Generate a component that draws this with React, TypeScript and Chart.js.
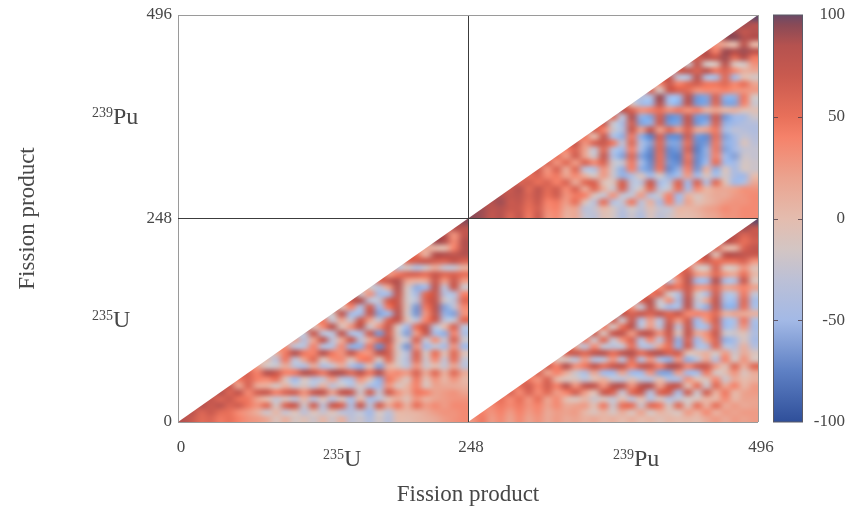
import React, { useEffect, useRef } from "react";
import { Chart, registerables } from "chart.js";

Chart.register(...registerables);

const axisTicks = [0, 248, 496];
const colorbarValues = [-100, -50, 0, 50, 100];
const isotopes = [
  { mass: "235", symbol: "U", center: 124 },
  { mass: "239", symbol: "Pu", center: 372 },
];
const axisTitle = "Fission product";

const colorStops: [number, number[]][] = [
  [-100, [47, 79, 154]],
  [-75, [94, 128, 196]],
  [-50, [163, 185, 230]],
  [-30, [188, 192, 214]],
  [-15, [211, 197, 195]],
  [0, [228, 188, 174]],
  [20, [235, 163, 143]],
  [40, [245, 130, 106]],
  [50, [232, 112, 90]],
  [70, [201, 90, 79]],
  [85, [181, 82, 79]],
  [95, [138, 74, 86]],
  [100, [107, 74, 102]],
];

// rows run bottom to top; row j starts at column j; one cell = 8 fission products
const u235Rows = [
  [85,70,55,60,45,50,40,30,25,15,-10,10,-15,-5,-20,5,-20,10,-30,-20,-40,-15,-35,0,0,5,10,15,25,30,35],
  [80,60,70,55,50,35,25,10,-20,5,-25,-5,-30,-5,-25,-5,-30,-35,-25,-50,-10,-30,5,5,10,15,25,30,30,35],
  [85,70,80,60,65,45,30,55,-15,60,70,-20,65,-30,70,60,-40,70,-30,65,15,45,10,50,25,35,25,35,35],
  [75,60,70,50,45,20,0,-25,-10,-30,5,-35,-5,-35,-10,-45,5,-45,-30,-5,15,-5,30,10,20,25,30,30],
  [85,60,75,35,65,70,40,60,65,30,70,75,20,75,70,-20,65,-25,65,30,10,45,40,20,25,30,20],
  [70,20,60,15,10,-15,10,-25,-10,-30,10,-30,-15,-35,-10,-40,-50,30,-10,5,40,-10,20,15,15,10],
  [45,60,40,35,50,-10,-50,-10,-35,-25,25,-30,-40,30,-5,-55,45,20,-10,45,-5,30,5,30,5],
  [60,40,85,70,40,45,85,70,45,85,85,55,80,45,85,30,35,25,60,15,55,10,55,15],
  [20,-15,-20,15,-30,-40,15,-40,-25,15,-40,-55,0,-60,10,-10,-30,30,-20,0,-25,20,-30],
  [0,-30,45,-30,20,55,-10,30,35,-10,40,45,-15,55,-15,-35,55,-20,35,-25,50,-25],
  [10,45,85,45,40,85,45,30,75,35,30,80,65,-10,-35,60,-15,50,-5,55,-5],
  [30,-30,-30,40,-35,-35,35,-55,-55,45,-70,60,-15,-65,30,-50,-25,-45,30,-50],
  [20,-35,20,75,-30,15,70,-30,15,55,75,-5,-25,60,-25,30,-25,60,-20],
  [-25,70,-30,-30,75,-40,-40,65,-65,65,-15,-60,25,70,-45,-55,40,-40],
  [-10,35,80,-10,30,80,-20,30,70,-10,-50,50,75,-30,0,60,-30],
  [45,-25,20,-25,70,20,-25,60,75,-5,-30,40,70,-30,-25,55],
  [-15,75,-45,-45,70,-60,-50,80,-15,-65,30,75,-55,-60,30],
  [-10,40,-40,65,-50,45,75,-10,-65,45,80,-60,-30,35],
  [70,85,-30,-25,65,70,-15,-30,60,75,-20,-30,55],
  [-20,30,-45,-45,75,-15,-45,55,70,-35,-35,40],
  [-15,-30,20,85,-10,-55,-50,75,-30,70,-20],
  [55,70,85,20,10,15,70,25,70,25],
  [25,45,60,60,50,70,55,60,50],
  [-30,-15,-40,-20,15,-25,-25,10],
  [55,65,70,65,60,75,60],
  [50,10,85,85,75,85],
  [20,5,0,40,85],
  [90,85,35,85],
  [85,30,75],
  [85,80],
  [95],
];

const pu239Rows = [
  [95,90,75,85,60,75,45,70,30,35,10,15,-25,-30,-5,-15,-40,-20,-40,-10,-30,-20,0,0,5,15,20,30,30,35,35],
  [90,80,85,70,70,50,65,35,40,15,20,-30,-25,5,-15,-35,-15,-30,-5,-25,-25,5,5,10,20,25,35,30,35,35],
  [85,90,70,75,55,70,40,45,25,50,-5,-30,50,-35,-25,45,-30,10,-45,40,-40,20,-5,5,15,25,30,30,35],
  [85,75,80,60,75,50,65,30,45,40,-10,-25,30,-25,-25,25,-35,-20,40,-50,10,-10,5,15,15,25,30,35],
  [70,85,55,75,55,65,35,60,15,55,10,-20,60,-30,-10,55,-30,-20,50,-45,35,5,20,15,20,30,30],
  [60,65,50,60,40,60,15,55,60,-5,-10,65,-30,-30,70,-45,-30,60,-50,60,-40,55,-5,-50,-40,15],
  [50,60,35,45,20,35,10,-15,25,-20,-55,-40,-10,-50,-15,-55,-45,25,-50,-10,-45,-15,-45,-50,0],
  [65,30,60,15,55,-30,-35,30,-20,-55,40,-55,-65,45,-70,-55,40,-65,10,-55,-10,-45,-15,-20],
  [60,30,55,25,60,35,60,-20,-25,45,-45,-70,50,-65,-70,50,-70,-50,50,-50,-50,-15,-20],
  [50,25,65,20,-20,70,-40,-60,55,-60,-75,50,-70,-75,45,-70,-55,40,-50,-60,-20,-25],
  [40,60,20,-25,55,-35,-50,40,-45,-70,55,-70,-65,60,-75,-55,45,-60,-50,-25,-25],
  [70,30,60,70,45,-30,55,-40,-60,55,-60,-60,50,-70,-65,45,-55,-50,-10,-30],
  [45,0,70,-40,-55,45,-55,-75,60,-70,-70,65,-65,-70,50,-60,-45,-25,-35],
  [65,40,-20,-40,70,20,75,20,55,25,60,15,20,45,-45,-30,-35,-40],
  [70,-20,-45,65,-60,-55,65,-65,-60,70,-65,-55,60,-55,-50,-40,-35],
  [55,-30,85,-55,-60,65,-70,-65,70,-65,-65,65,-65,-50,-45,-20],
  [80,60,30,40,50,30,45,30,40,10,20,5,10,-5,-5],
  [-10,-45,-50,85,-45,-55,75,-65,-60,55,-60,-60,40,-20],
  [-35,-40,90,-50,-50,80,-65,-60,60,-55,-55,45,-15],
  [60,-15,70,60,55,30,35,35,40,30,30,25],
  [35,70,40,55,65,45,45,55,35,50,20],
  [70,-30,-35,80,-40,-45,55,-50,0,-15],
  [65,75,60,80,45,60,35,10,15],
  [-20,75,-15,-10,80,-10,-15,30],
  [65,80,70,90,55,85,45],
  [85,40,90,85,90,80],
  [30,15,0,80,5],
  [90,95,85,85],
  [90,75,85],
  [90,85],
  [100],
];

const crossRows = [
  [30,45,25,35,20,35,20,30,15,25,15,20,10,15,5,10,0,10,0,5,-5,5,0,5,0,15,25,15,25,20,25],
  [40,30,40,25,40,25,35,15,25,20,25,5,-10,10,-15,15,-10,20,-15,10,-5,-10,25,10,35,10,25,20,25,25],
  [35,45,35,45,30,40,20,35,15,20,25,-5,45,-20,50,50,-20,55,45,-15,55,-10,50,10,50,15,25,15,20],
  [50,35,50,30,50,20,35,0,-10,5,-20,-10,-25,0,-30,0,-35,-10,-35,-25,-15,-10,10,5,35,5,20,20],
  [60,35,60,35,55,25,40,65,25,-5,70,60,-25,55,70,-35,60,65,-45,65,-20,65,10,45,5,20,25],
  [50,65,40,65,40,80,30,75,75,30,80,80,30,80,85,20,70,70,-5,50,-20,55,15,40,5,25],
  [45,30,60,5,-10,-10,-30,-5,10,-25,-30,-5,-30,-35,0,-40,-40,30,-5,-10,35,-20,15,0,10],
  [60,20,40,15,-20,-40,20,-50,-50,20,-50,-50,30,-60,-60,25,-50,-45,45,-15,-5,30,-10,15],
  [65,40,85,30,45,75,50,70,75,40,70,70,40,85,80,35,65,70,25,-5,55,10,55],
  [-5,-10,-30,25,-35,-30,30,-35,55,-40,30,-40,-55,30,-55,-30,20,-35,40,-15,30,-10],
  [60,70,55,75,80,50,75,85,50,75,85,60,65,-5,-5,10,-15,25,-20,15,-10],
  [15,-30,35,-25,-30,-25,50,-35,-35,20,50,-55,65,-40,-40,55,-30,-35,10,-35],
  [45,-20,55,-25,30,60,-35,35,-30,60,-55,60,-50,20,60,-55,-45,-10,-45],
  [65,-10,70,75,25,75,75,30,70,-10,75,15,30,70,-20,-20,-5,-40],
  [45,-15,50,80,-30,25,-30,75,-30,70,-45,-45,60,-50,-35,30,-45],
  [65,-20,70,-40,25,-35,65,25,65,-50,25,65,-50,-40,45,-40],
  [75,60,70,60,75,55,70,35,40,35,55,10,20,15,10],
  [30,-25,75,-20,-50,-40,75,-30,-55,70,-55,-55,50,-40],
  [60,80,-20,30,-45,80,-25,15,75,-45,-50,55,-45],
  [45,60,-15,-35,70,-15,-40,65,-35,-30,45,-25],
  [30,60,45,70,30,30,60,20,25,40,20],
  [-30,30,80,-50,-50,85,-45,-40,70,-10],
  [45,70,25,20,55,25,15,50,5],
  [50,-10,-15,60,-10,-10,30,-5],
  [45,65,50,50,50,60,30],
  [80,-5,80,85,75,70],
  [60,10,5,60,75],
  [85,70,50,65],
  [85,60,70],
  [90,75],
  [100],
];

const CELL = 8;
const CELLS = 31;
const panels = [
  { rows: u235Rows, ox: 0, oy: 0, label: "235U / 235U" },
  { rows: pu239Rows, ox: 248, oy: 248, label: "239Pu / 239Pu" },
  { rows: crossRows, ox: 248, oy: 0, label: "235U / 239Pu" },
];

function colorFor(v: number): string {
  for (let i = 1; i < colorStops.length; i++) {
    const [v1, c1] = colorStops[i];
    const [v0, c0] = colorStops[i - 1];
    if (v <= v1) {
      const t = (v - v0) / (v1 - v0);
      const c = c0.map((a, k) => Math.round(a + (c1[k] - a) * Math.max(0, t)));
      return `rgb(${c[0]},${c[1]},${c[2]})`;
    }
  }
  const c = colorStops[colorStops.length - 1][1];
  return `rgb(${c[0]},${c[1]},${c[2]})`;
}

function toPoints(p: (typeof panels)[number]) {
  const pts: { x: number; y: number; v: number }[] = [];
  p.rows.forEach((row, j) =>
    row.forEach((v, k) => {
      pts.push({ x: p.ox + (j + k) * CELL, y: p.oy + j * CELL, v });
    })
  );
  return pts;
}

const TEXT = "#474747";
const SERIF = "'Liberation Serif', serif";

const heatmapPlugin = {
  id: "heatmap",
  beforeDatasetsDraw(chart: any) {
    const { ctx, scales } = chart;
    const X = scales.x;
    const Y = scales.y;
    const Z = scales.z;
    chart.data.datasets.forEach((ds: any, di: number) => {
      const p = panels[di];
      // one texel per matrix cell, mirrored across the diagonal, then smoothed when scaled up
      const off = document.createElement("canvas");
      off.width = CELLS;
      off.height = CELLS;
      const o = off.getContext("2d")!;
      ds.data.forEach((pt: any) => {
        const col = (pt.x - p.ox) / CELL;
        const row = (pt.y - p.oy) / CELL;
        o.fillStyle = colorFor(pt.v);
        o.fillRect(col, CELLS - 1 - row, 1, 1);
        o.fillRect(row, CELLS - 1 - col, 1, 1);
      });
      const x0 = X.getPixelForValue(p.ox);
      const x1 = X.getPixelForValue(p.ox + 248);
      const y0 = Y.getPixelForValue(p.oy);
      const y1 = Y.getPixelForValue(p.oy + 248);
      ctx.save();
      ctx.beginPath();
      ctx.moveTo(x0, y0);
      ctx.lineTo(x1, y0);
      ctx.lineTo(x1, y1);
      ctx.closePath();
      ctx.clip();
      ctx.imageSmoothingEnabled = true;
      ctx.imageSmoothingQuality = "high";
      ctx.drawImage(off, x0, y1, x1 - x0, y0 - y1);
      ctx.restore();
    });

    // colour bar, positioned along its own value scale
    const left = 774;
    const barW = 28;
    const top = Z.getPixelForValue(100);
    const bottom = Z.getPixelForValue(-100);
    const gradient = ctx.createLinearGradient(0, bottom, 0, top);
    colorStops.forEach(([v]) => {
      gradient.addColorStop((v + 100) / 200, colorFor(v));
    });
    ctx.fillStyle = gradient;
    ctx.fillRect(left, top, barW, bottom - top);
    ctx.strokeStyle = "#5a5a66";
    ctx.lineWidth = 1;
    ctx.strokeRect(left - 0.5, top, barW + 1, bottom - top);
    colorbarValues.slice(1, -1).forEach((v) => {
      const y = Math.round(Z.getPixelForValue(v)) + 0.5;
      ctx.beginPath();
      ctx.moveTo(left, y);
      ctx.lineTo(left + 4, y);
      ctx.moveTo(left + barW - 4, y);
      ctx.lineTo(left + barW, y);
      ctx.strokeStyle = "rgba(80,60,70,0.8)";
      ctx.stroke();
    });
  },
  afterDraw(chart: any) {
    const { ctx, scales } = chart;
    ctx.save();
    ctx.fillStyle = TEXT;
    ctx.textBaseline = "alphabetic";
    const draw = (x: number, y: number, mass: string, sym: string) => {
      ctx.textAlign = "left";
      ctx.font = `14px ${SERIF}`;
      const w = ctx.measureText(mass).width;
      ctx.fillText(mass, x, y - 7);
      ctx.font = `24px ${SERIF}`;
      ctx.fillText(sym, x + w, y);
    };
    isotopes.forEach((iso) => {
      const px = scales.x.getPixelForValue(iso.center);
      const py = scales.y.getPixelForValue(iso.center);
      draw(px, 466, iso.mass, iso.symbol);
      draw(92, py + 7, iso.mass, iso.symbol);
    });
    ctx.restore();
  },
};

export default function App() {
  const ref = useRef<HTMLCanvasElement>(null);
  useEffect(() => {
    const lineColor = (c: any) => (c.tick && c.tick.value === 248 ? "#3c3c3c" : "#9a9a9a");
    const noPad = (s: any) => {
      s.paddingTop = 0;
      s.paddingBottom = 0;
      s.paddingLeft = 0;
      s.paddingRight = 0;
    };
    const chart = new Chart(ref.current!, {
      type: "scatter",
      data: {
        datasets: panels.map((p) => ({
          label: p.label,
          data: toPoints(p),
          pointRadius: 0,
          pointHoverRadius: 0,
          showLine: false,
        })),
      },
      options: {
        responsive: false,
        animation: false,
        events: [],
        layout: { padding: { top: 15, left: 0, right: 3, bottom: 0 } },
        plugins: { legend: { display: false }, tooltip: { enabled: false } },
        scales: {
          x: {
            type: "linear",
            min: axisTicks[0],
            max: axisTicks[2],
            afterFit: (s: any) => { s.height = 89; noPad(s); },
            afterBuildTicks: (s: any) => { s.ticks = axisTicks.map((value) => ({ value })); },
            ticks: { padding: 15, labelOffset: 3, color: TEXT, maxRotation: 0, font: { family: SERIF, size: 17 } },
            grid: { color: lineColor, lineWidth: 1, drawTicks: false, z: 1 },
            border: { display: false },
            title: { display: true, text: axisTitle, color: TEXT, font: { family: SERIF, size: 23 }, padding: { top: 0, bottom: 2 } },
          },
          y: {
            type: "linear",
            min: axisTicks[0],
            max: axisTicks[2],
            afterFit: (s: any) => { s.width = 178; noPad(s); },
            afterBuildTicks: (s: any) => { s.ticks = axisTicks.map((value) => ({ value })); },
            ticks: { padding: 6, color: TEXT, font: { family: SERIF, size: 17 } },
            grid: { color: lineColor, lineWidth: 1, drawTicks: false, z: 1 },
            border: { display: false },
            title: { display: true, text: axisTitle, color: TEXT, font: { family: SERIF, size: 23 }, padding: { top: 14, bottom: 0 } },
          },
          z: {
            type: "linear",
            position: "right",
            min: -100,
            max: 100,
            afterFit: (s: any) => { s.width = 87; noPad(s); },
            afterBuildTicks: (s: any) => { s.ticks = colorbarValues.map((value) => ({ value })); },
            ticks: { padding: 53, crossAlign: "far", color: TEXT, font: { family: SERIF, size: 17 } },
            grid: { display: false, drawTicks: false, drawOnChartArea: false },
            border: { display: false },
          },
        },
      },
      plugins: [heatmapPlugin],
    } as any);
    return () => chart.destroy();
  }, []);
  return (
    <div style={{ position: "fixed", left: 0, top: 0, width: 848, height: 511, background: "#fff" }}>
      <canvas ref={ref} width={848} height={511} style={{ display: "block" }} />
    </div>
  );
}
